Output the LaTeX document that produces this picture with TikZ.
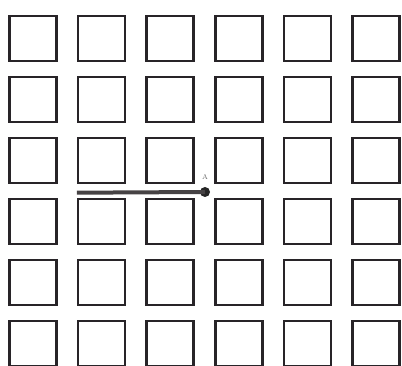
\documentclass[tikz,border=0pt]{standalone}
\usepackage{tikz}
\usetikzlibrary{positioning,calc}
\definecolor{boxline}{RGB}{40, 36, 40}
\definecolor{rodgray}{RGB}{70, 66, 68}
\tikzset{
    cell/.style={draw=boxline, line width=2.6pt, rectangle, minimum width=47pt, minimum height=45pt, inner sep=0pt},
    pin/.style={circle, fill=black!85, inner sep=0pt, minimum size=10pt}
}

\begin{document}
\begin{tikzpicture}[x=1pt, y=-1pt]
    \useasboundingbox (0,0) rectangle (402,366);
    % Grid of squares
    \foreach \r in {0,...,5} {
        \foreach \c in {0,...,5} {
            \node[cell] (sq-\r-\c) at ({33+68.6*\c}, {38.5+61*\r}) {};
        }
    }
    % Point A
    \node[pin] (A) at (205,192) {};
    \node[text=black!60, font=\scriptsize, above=4pt of A] (labA) {A};
    % Rod
    \coordinate (rodend) at ($(sq-3-1.north west)+(0,-5)$);
    \draw[rodgray, line width=4pt] (rodend) -- (A.center);
\end{tikzpicture}
\end{document}
